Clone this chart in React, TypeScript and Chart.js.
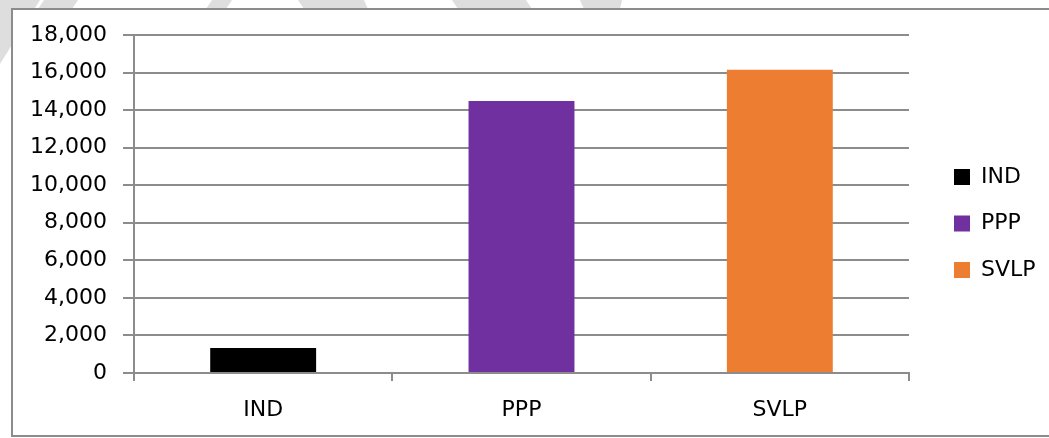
import React, { useEffect, useRef } from "react";
import { Chart, registerables } from "chart.js";

Chart.register(...registerables);

// ---- data ----
const categories: string[] = ["IND", "PPP", "SVLP"];
const values: number[] = [1330, 14480, 16150];
const barColors: string[] = ["#000000", "#7030A0", "#ED7D31"];
const Y_MIN = 0;
const Y_MAX = 18000;
const Y_STEP = 2000;

// ---- style / layout constants ----
const FONT = "'DejaVu Sans', sans-serif";
const FONT_SIZE = 22;
const GRID = "#8c8c8c";
const LEGEND_BOX_X = 954;
const LEGEND_FIRST_Y = 166;

const WATERMARK: number[][][] = [
  [[0, 0], [40, 0], [0, 64]],
  [[44, 0], [78, 0], [72, 9], [38, 9]],
  [[212, 0], [232, 0], [226, 9], [206, 9]],
  [[298, 0], [364, 0], [368, 9], [304, 9]],
  [[452, 0], [526, 0], [532, 9], [458, 9]],
  [[580, 0], [622, 0], [620, 9], [584, 9]],
];

const watermarkPlugin = {
  id: "watermark",
  beforeDraw(chart: any) {
    const ctx = chart.ctx;
    ctx.save();
    ctx.fillStyle = "#dedede";
    for (const poly of WATERMARK) {
      ctx.beginPath();
      poly.forEach(([x, y], i) => (i === 0 ? ctx.moveTo(x, y) : ctx.lineTo(x, y)));
      ctx.closePath();
      ctx.fill();
    }
    ctx.clearRect(11, 8, chart.width, 429);
    ctx.restore();
  },
  afterLayout(chart: any) {
    const lg = chart.legend;
    if (!lg) return;
    const p = lg.options.labels.padding;
    const colH = lg.columnSizes && lg.columnSizes[0] ? lg.columnSizes[0].height : 0;
    const start = (lg.top + p + lg.bottom - colH) / 2;
    const dy = LEGEND_FIRST_Y - start;
    const dx = LEGEND_BOX_X - (lg.left + p);
    lg.top += dy;
    lg.bottom += dy;
    lg.left += dx;
    lg.right = chart.width;
  },
};

export default function App() {
  const canvasRef = useRef<HTMLCanvasElement | null>(null);

  useEffect(() => {
    if (!canvasRef.current) return;
    document.body.style.margin = "0";
    Chart.defaults.font.family = FONT;
    Chart.defaults.color = "#000000";
    const chart = new Chart(canvasRef.current, {
      type: "bar",
      data: {
        labels: categories,
        datasets: [
          {
            label: "Series",
            data: values,
            backgroundColor: barColors,
            borderWidth: 0,
            categoryPercentage: 1,
            barPercentage: 0.41,
          },
        ],
      },
      options: {
        responsive: true,
        maintainAspectRatio: false,
        animation: false,
        layout: { padding: { top: 35, right: 40, bottom: 0, left: 0 } },
        plugins: {
          tooltip: { enabled: false },
          legend: {
            position: "right",
            maxWidth: 100,
            labels: {
              boxWidth: 16,
              boxHeight: 16,
              padding: 24.5,
              color: "#000000",
              font: { family: FONT, size: FONT_SIZE },
              generateLabels: () =>
                categories.map((c, i) => ({
                  text: c,
                  fillStyle: barColors[i],
                  strokeStyle: barColors[i],
                  lineWidth: 0,
                  hidden: false,
                  index: i,
                  datasetIndex: 0,
                })),
            },
            onClick: () => {},
          },
        },
        scales: {
          x: {
            z: 1,
            grid: {
              display: true,
              drawOnChartArea: false,
              drawTicks: true,
              tickLength: 8,
              color: GRID,
              lineWidth: 2,
            },
            border: { display: true, color: GRID, width: 2 },
            ticks: {
              padding: 16,
              color: "#000000",
              font: { family: FONT, size: FONT_SIZE },
            },
            afterFit: (scale: any) => {
              scale.height = 65;
            },
          },
          y: {
            min: Y_MIN,
            max: Y_MAX,
            grid: {
              color: GRID,
              lineWidth: 2,
              drawTicks: true,
              tickLength: 11,
            },
            border: { display: true, color: GRID, width: 2 },
            ticks: {
              stepSize: Y_STEP,
              padding: 16,
              color: "#000000",
              font: { family: FONT, size: FONT_SIZE },
              callback: (v: any) => Number(v).toLocaleString("en-US"),
            },
            afterFit: (scale: any) => {
              scale.width = 134;
            },
          },
        },
      } as any,
      plugins: [watermarkPlugin],
    });
    return () => chart.destroy();
  }, []);

  return (
    <div
      style={{
        position: "absolute",
        left: 0,
        top: 0,
        width: 1049,
        height: 438,
        overflow: "hidden",
        background: "#ffffff",
      }}
    >
      <div
        style={{
          position: "absolute",
          left: 11,
          top: 8,
          width: 1100,
          height: 425,
          borderTop: `2px solid ${GRID}`,
          borderLeft: `2px solid ${GRID}`,
          borderBottom: `2px solid ${GRID}`,
        }}
      />
      <div style={{ position: "absolute", left: 0, top: 0, width: 1049, height: 438 }}>
        <canvas ref={canvasRef} />
      </div>
    </div>
  );
}
